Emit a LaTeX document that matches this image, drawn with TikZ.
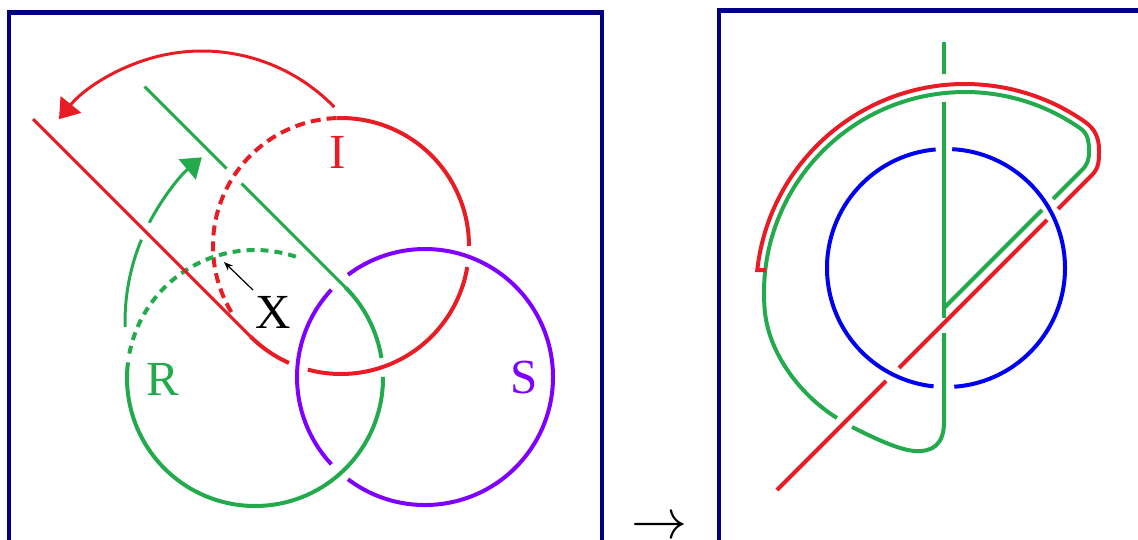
\documentclass[tikz,border=0pt]{standalone}
\usepackage{fontspec}
\setmainfont{Liberation Serif}
\usetikzlibrary{arrows.meta}
\definecolor{knred}{RGB}{232,28,36}
\definecolor{kngreen}{RGB}{34,170,76}
\definecolor{knpurple}{RGB}{127,0,255}
\definecolor{knblue}{RGB}{0,0,240}
\definecolor{knnavy}{RGB}{0,0,128}
\begin{document}
\begin{tikzpicture}[x=1pt,y=1pt,
  frame/.style={draw=knnavy,line width=4.5pt},
  redc/.style={draw=knred,line width=4pt},
  redl/.style={draw=knred,line width=3pt},
  greenc/.style={draw=kngreen,line width=4pt},
  greenl/.style={draw=kngreen,line width=3pt},
  purplec/.style={draw=knpurple,line width=4pt},
  bluec/.style={draw=knblue,line width=4pt},
  reddash/.style={redc,dash pattern=on 10pt off 6pt},
  greendash/.style={greenc,dash pattern=on 8pt off 6pt},
  bighead/.style={-{Triangle[length=19pt,width=26pt]}},
  lab/.style={anchor=base,inner sep=0pt,font=\fontsize{49}{49}\selectfont}]
\useasboundingbox (0,0) rectangle (1138,-539);
\clip (0,0) rectangle (1138,-539);
% frames
\draw[frame] (9,-12.5) rectangle (602,-570);
\draw[frame] (719,-10.5) rectangle (1170,-570);
% centres
\coordinate (I) at (341,-246);
\coordinate (R) at (255,-378);
\coordinate (S) at (425,-377);
\coordinate (RA) at (202,-235);
\coordinate (GA) at (340,-322);
\coordinate (B) at (946,-268);
\coordinate (O) at (965,-293);
% ---------- left panel ----------
% dashed old positions
\draw[reddash] ([shift={(92:128)}]I) arc[start angle=92,end angle=212,radius=128];
\draw[greendash] ([shift={(169:128)}]R) arc[start angle=169,end angle=70,radius=128];
% green rotation arrow
\draw[greenl] ([shift={(181.3:215)}]GA) arc[start angle=181.3,end angle=157.5,radius=215];
\draw[greenl,bighead] ([shift={(152.5:215)}]GA) arc[start angle=152.5,end angle=130,radius=215];
% green strand
\coordinate (gtop) at (144.5,-86.5);
\coordinate (gg1) at (226.5,-168.5);
\coordinate (gg2) at (241.5,-183.5);
\coordinate (gtan) at ([shift={(45:128)}]R);
\draw[greenl] (gtop) -- (gg1);
\draw[greenl] (gg2) -- (gtan);
\draw[greenc] (gtan) arc[start angle=45,end angle=9,radius=128];
\draw[greenc] ([shift={(0.5:128)}]R) arc[start angle=0.5,end angle=-187,radius=128];
% purple circle
\draw[purplec] ([shift={(137:128)}]S) arc[start angle=137,end angle=223,radius=128];
\draw[purplec] ([shift={(233:128)}]S) arc[start angle=233,end angle=487,radius=128];
% red strand
\coordinate (rtan) at ([shift={(-135:128)}]I);
\coordinate (rend) at (33,-119);
\draw[redc] ([shift={(92:128)}]I) arc[start angle=92,end angle=0,radius=128];
\draw[redc] ([shift={(-9.5:128)}]I) arc[start angle=-9.5,end angle=-105,radius=128];
\draw[redc] ([shift={(-114:128)}]I) arc[start angle=-114,end angle=-135,radius=128];
\draw[redl] (rtan) -- (rend);
% red rotation arrow
\draw[redl,bighead] ([shift={(44:184)}]RA) arc[start angle=44,end angle=141,radius=184];
% X pointer
\coordinate (xs) at (253,-290);
\coordinate (xt) at (224,-262);
\draw[line width=1.2pt,-{Stealth[length=9pt,width=7pt]}] (xs) -- (xt);
% labels
\node[lab,text=knred] (labI) at (338,-168) {I};
\node[lab,text=kngreen] (labR) at (162.5,-395) {R};
\node[lab,text=knpurple] (labS) at (524,-393) {S};
\node[lab,text=black] (labX) at (273.5,-328) {X};
% between panels
\node[anchor=base,inner sep=0pt,scale=5.6] (arr) at (659,-538) {$\rightarrow$};
% ---------- right panel ----------
\draw[bluec] ([shift={(95:119)}]B) arc[start angle=95,end angle=264,radius=119];
\draw[bluec] ([shift={(274:119)}]B) arc[start angle=274,end angle=447,radius=119];
% green
\draw[greenc] (944,-42) -- (944,-74);
\draw[greenc] (944,-102) -- (944,-318);
\draw[greenc] (944,-333) -- (944,-422) .. controls (944,-445) and (932,-452) .. (915,-451)
   .. controls (898,-450) and (870,-436) .. (852,-427);
\draw[greenc] (837,-418) .. controls (803,-397) and (769,-356) .. ([shift={(185:201)}]O)
   arc[start angle=185,end angle=55,radius=201]
   to[out=-35,in=90] (1089,-152) to[out=-90,in=45] (1082,-170) -- (1053,-199);
\draw[greenc] (1042,-210) -- (944,-308);
% red
\draw[redc] (766,-270.1) -- ([shift={(173.7:209)}]O)
   arc[start angle=173.7,end angle=55,radius=209]
   to[out=-35,in=90] (1099,-150) to[out=-90,in=45] (1092,-175) -- (1058,-209);
\draw[redc] (1047,-220) -- (899,-368);
\draw[redc] (886,-381) -- (777,-490);
\end{tikzpicture}
\end{document}
